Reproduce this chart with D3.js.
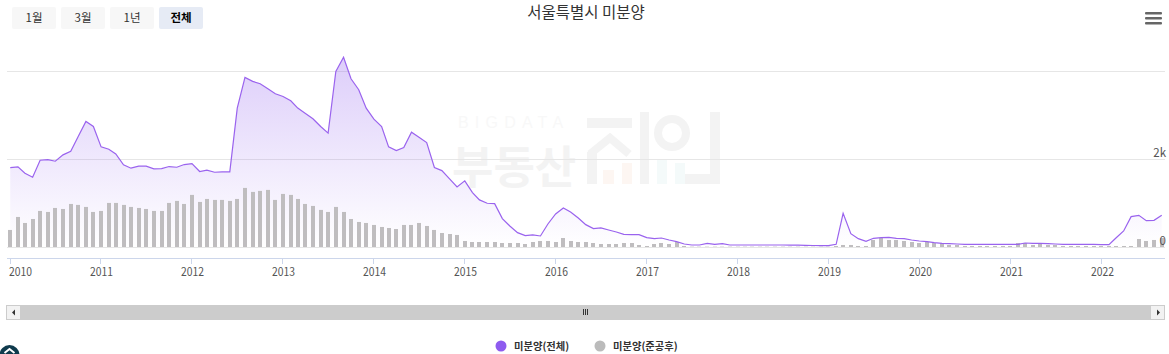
<!DOCTYPE html>
<html><head><meta charset="utf-8">
<script src="https://cdn.jsdelivr.net/npm/d3@7/dist/d3.min.js"></script>
<style>html,body{margin:0;padding:0;background:#fff;overflow:hidden}svg{display:block}</style>
</head><body><svg id="c" width="1169" height="354"></svg>
<script>
const title = "서울특별시 미분양";
const rangeButtons = ["1월","3월","1년","전체"];
const seriesNames = ["미분양(전체)","미분양(준공후)"];
const yTicks = [0,2000,4000];
const yTickLabels = ["0","2k",""];
const yearTicks = [2010,2011,2012,2013,2014,2015,2016,2017,2018,2019,2020,2021,2022];
const total = [
1809,1824,1680,1588,1976,1991,1953,2098,2181,2516,2858,2744,
2280,2227,2120,1870,1794,1839,1839,1778,1786,1832,1816,1877,
1900,1718,1748,1702,1710,1710,3162,3861,3770,3716,3602,3488,
3428,3329,3162,3040,2918,2744,2592,3998,4320,3830,3580,3162,
2911,2744,2280,2196,2265,2614,2500,2379,1809,1740,1550,1368,
1505,1239,1072,996,988,646,479,327,258,274,251,524,
752,889,798,661,509,418,433,388,342,289,281,281,
213,190,205,160,122,68,46,46,84,61,76,46,
46,46,46,46,46,46,46,42,42,38,34,30,
30,61,768,304,190,129,198,213,220,198,190,160,
137,122,99,84,76,68,61,61,61,61,61,61,
61,61,91,84,84,76,68,61,61,61,61,61,
53,53,205,365,692,722,600,608,722];
const completed = [
388,684,547,638,821,798,889,866,980,958,912,798,
821,1003,1003,958,912,889,866,821,821,1003,1049,980,
1186,1026,1094,1072,1072,1049,1094,1345,1254,1277,1300,1072,
1208,1186,1094,980,935,844,798,912,798,638,570,547,
502,456,433,410,502,502,547,479,388,319,296,274,
137,114,114,114,114,91,91,91,68,114,137,137,
114,205,137,114,114,91,68,68,68,91,91,46,
23,68,91,68,114,23,8,8,8,8,8,8,
8,8,8,8,8,8,8,8,8,8,8,8,
8,23,46,46,23,23,160,205,160,160,137,114,
91,114,91,91,46,46,23,23,23,23,23,23,
23,91,91,46,68,46,46,23,23,23,23,23,
23,23,23,23,23,182,137,160,205];
const startYear = 2010;

const svg = d3.select("#c");
const FONT = "'Noto Sans CJK KR','Noto Sans',sans-serif";
const dates = total.map((_,i)=>new Date(Date.UTC(startYear,i,4)));
const x = d3.scaleUtc().domain([new Date(Date.UTC(2010,0,1)),new Date(Date.UTC(2022,0,1))]).range([9.5,1100.5]);
const y = d3.scaleLinear().domain([0,4000]).range([247,71.3]);

// gradient
const defs = svg.append("defs");
const g = defs.append("linearGradient").attr("id","ag").attr("x1",0).attr("y1",0).attr("x2",0).attr("y2",1);
g.append("stop").attr("offset",0).attr("stop-color","#8e5bef").attr("stop-opacity",0.3);
g.append("stop").attr("offset",1).attr("stop-color","#8e5bef").attr("stop-opacity",0);

// watermark
const wm = svg.append("g").attr("fill","#f3f3f3");
wm.append("text").attr("x",458).attr("y",128).attr("font-family","'Liberation Sans'").attr("font-size",16).attr("letter-spacing",6.2).attr("fill","#f8f8f8").text("BIGDATA");
wm.append("text").attr("x",452).attr("y",184).attr("font-family",FONT).attr("font-size",45).attr("font-weight",700).text("부동산");
const logoRects = [[587,118,45,10,"#f3f3f3"],[587,152,10,32,"#f3f3f3"],[640,112,9,72,"#f3f3f3"],[710,112,10,72,"#f3f3f3"],[685,174,35,10,"#f3f3f3"],
 [603,170,11,14,"#fdf6f2"],[622,163,10,21,"#fdf6f2"],[657,160,10,24,"#f4fafa"],[675,163,10,21,"#f4fafa"]];
wm.selectAll("rect.l").data(logoRects).join("rect").attr("class","l").attr("x",d=>d[0]).attr("y",d=>d[1]).attr("width",d=>d[2]).attr("height",d=>d[3]).attr("fill",d=>d[4]);
wm.append("path").attr("d","M590 154 L610 138 L629 154").attr("fill","none").attr("stroke","#f3f3f3").attr("stroke-width",8);
wm.append("circle").attr("cx",672).attr("cy",133).attr("r",14).attr("fill","none").attr("stroke","#f3f3f3").attr("stroke-width",8);

// grid
svg.append("g").selectAll("line").data(yTicks).join("line")
 .attr("x1",7).attr("x2",1165).attr("y1",d=>Math.round(y(d))+.5).attr("y2",d=>Math.round(y(d))+.5)
 .attr("stroke","#e6e6e6");

// area + line
const area = d3.area().x((d,i)=>x(dates[i])).y0(y(0)).y1(d=>y(d));
const line = d3.line().x((d,i)=>x(dates[i])).y(d=>y(d));
svg.append("path").datum(total).attr("d",area).attr("fill","url(#ag)");

// bars
svg.append("g").selectAll("rect").data(completed).join("rect")
 .attr("x",(d,i)=>Math.round(x(dates[i])-2)).attr("width",4)
 .attr("y",d=>y(d)).attr("height",d=>y(0)-y(d)).attr("fill","#bfbdbf");

svg.append("path").datum(total).attr("d",line).attr("fill","none").attr("stroke","#9a63ee").attr("stroke-width",1.2);

// y labels
svg.append("g").selectAll("text").data(yTicks).join("text")
 .attr("x",1166).attr("y",d=>y(d)-2).attr("text-anchor","end")
 .attr("font-family",FONT).attr("font-size",11.5).attr("fill","#555")
 .text((d,i)=>yTickLabels[i]);

// x axis
svg.append("line").attr("x1",7).attr("x2",1165).attr("y1",258.5).attr("y2",258.5).attr("stroke","#ccd6eb");
const xt = svg.append("g").selectAll("g").data(yearTicks).join("g")
 .attr("transform",d=>`translate(${Math.round(x(new Date(Date.UTC(d,0,1))))+.5},0)`);
xt.append("line").attr("y1",258).attr("y2",264).attr("stroke","#ccd6eb");
xt.append("text").attr("x",(d,i)=>i==0?-1.5:-10.5).attr("y",276)
 .attr("textLength",23).attr("lengthAdjust","spacingAndGlyphs")
 .attr("font-family",FONT).attr("font-size",11.5).attr("fill","#555").text(d=>d);

// title
svg.append("text").attr("x",586).attr("y",18).attr("text-anchor","middle").attr("font-family",FONT).attr("font-size",15.5).attr("fill","#333").text(title);

// buttons
const b = svg.append("g").selectAll("g").data(rangeButtons).join("g").attr("transform",(d,i)=>`translate(${12+49*i},7)`);
b.append("rect").attr("width",44).attr("height",22).attr("rx",2).attr("fill",(d,i)=>i==3?"#e6ebf5":"#f7f7f7");
b.append("text").attr("x",22).attr("y",15).attr("text-anchor","middle").attr("font-family",FONT).attr("font-size",11.5)
 .attr("font-weight",(d,i)=>i==3?700:400).attr("fill",(d,i)=>i==3?"#000":"#333").text(d=>d);

// menu
svg.append("g").selectAll("rect").data([0,5,10]).join("rect").attr("x",1145).attr("y",d=>12+d).attr("width",17).attr("height",2.5).attr("rx",1).attr("fill","#666");

// scrollbar
svg.append("rect").attr("x",6).attr("y",305).attr("width",1159).attr("height",15).attr("fill","#ccc");
svg.append("rect").attr("x",7).attr("y",306).attr("width",13).attr("height",13).attr("fill","#f2f2f2");
svg.append("rect").attr("x",1151).attr("y",306).attr("width",13).attr("height",13).attr("fill","#f2f2f2");
svg.append("path").attr("d","M15 309.5 L12 312.5 L15 315.5Z").attr("fill","#333");
svg.append("path").attr("d","M1157 309.5 L1160 312.5 L1157 315.5Z").attr("fill","#333");
svg.append("g").selectAll("line").data([-2,0,2]).join("line").attr("x1",d=>585.5+d).attr("x2",d=>585.5+d).attr("y1",309).attr("y2",315).attr("stroke","#333");

// legend
const legendX = [501,600];
const legendC = ["#8e5bef","#bbbbbb"];
const lg = svg.append("g").selectAll("g").data(seriesNames).join("g").attr("transform",(d,i)=>`translate(${legendX[i]},346)`);
lg.append("circle").attr("r",5.5).attr("fill",(d,i)=>legendC[i]);
lg.append("text").attr("x",13).attr("y",4).attr("font-family",FONT).attr("font-size",10.3).attr("font-weight",700).attr("fill","#333").text(d=>d);

// bottom-left icon
svg.append("circle").attr("cx",9.5).attr("cy",355).attr("r",10).attr("fill","#0f3a4d");
svg.append("path").attr("d","M4.5 353 L9.5 349 L14.5 353").attr("fill","none").attr("stroke","#fff").attr("stroke-width",2);
</script></body></html>
